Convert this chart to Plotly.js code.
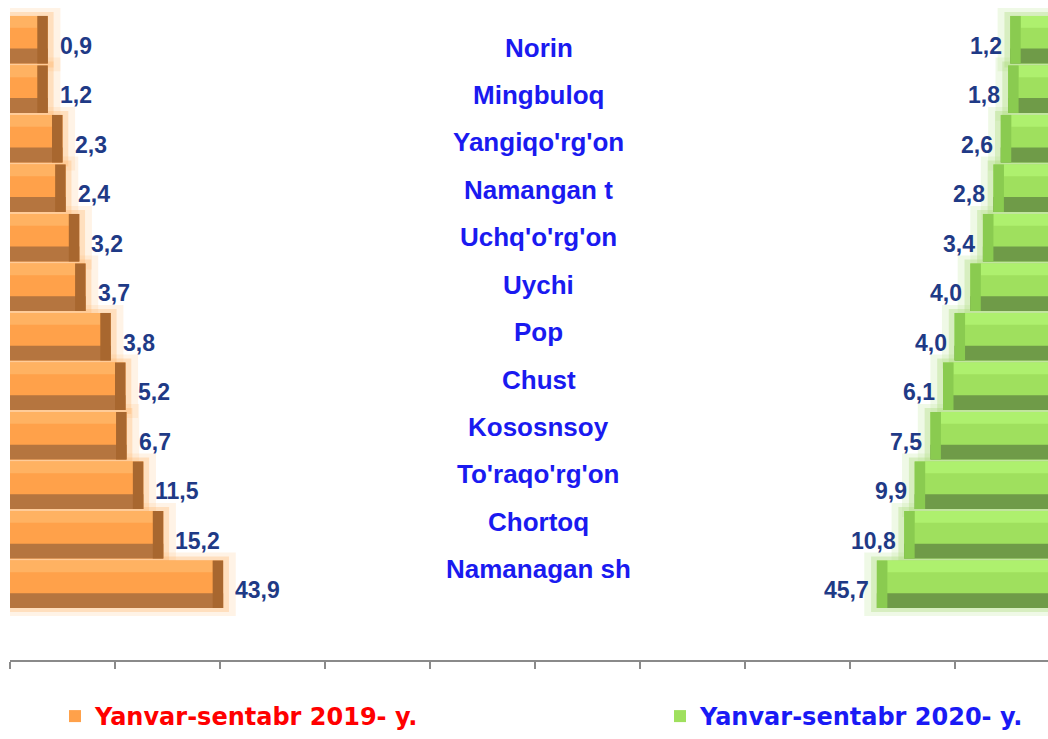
<!DOCTYPE html>
<html><head><meta charset="utf-8">
<script src="https://cdn.plot.ly/plotly-3.0.1.min.js"></script>
<style>html,body{margin:0;padding:0;background:#fff;overflow:hidden}#chart{width:1048px;height:739px}</style>
</head><body><div id="chart"></div>
<script>
// ---- data ----
const districts = ["Norin","Mingbuloq","Yangiqo'rg'on","Namangan t","Uchq'o'rg'on","Uychi","Pop","Chust","Kososnsoy","To'raqo'rg'on","Chortoq","Namanagan sh"];
const value2019 = [0.9,1.2,2.3,2.4,3.2,3.7,3.8,5.2,6.7,11.5,15.2,43.9];
const value2020 = [1.2,1.8,2.6,2.8,3.4,4.0,4.0,6.1,7.5,9.9,10.8,45.7];
// bar lengths as drawn in the picture, in chart scale units (axis tick step = 10)
const barLen2019 = [3.6,3.6,5.0,5.3,6.6,7.2,9.6,11.0,11.1,12.7,14.6,20.3];
const barLen2020 = [3.6,3.8,4.5,5.2,6.2,7.4,8.9,10.0,11.2,12.7,13.7,16.3];
const seriesNames = ["Yanvar-sentabr 2019- y.","Yanvar-sentabr 2020- y."];
const axisTicks = [0,10,20,30,40,50,60,70,80,90];

// ---- helpers ----
const idx = districts.map((_, i) => i);
const fmt = v => v.toFixed(1).replace('.', ',');
const AX_MAX = 1038 / 10.5;

function side(lens, xaxis, c, name, legendColor, legendrank, legendwidth) {
  const common = {type: 'bar', orientation: 'h', y: idx, xaxis: xaxis, yaxis: 'y', hoverinfo: 'skip', showlegend: false};
  const mainTrace = Object.assign({}, common, {x: lens, width: 0.96, marker: {color: c.main, line: {width: 0}},
      name: '<span style="color:' + legendColor + '">' + name + '</span>', showlegend: true, legendrank: legendrank});
  if (legendwidth) mainTrace.legendwidth = legendwidth;
  return [
    Object.assign({}, common, {x: lens.map(v => v + 1.2), width: 1.28, marker: {color: c.glow1}}),
    Object.assign({}, common, {x: lens.map(v => v + 0.55), width: 1.12, marker: {color: c.glow2}}),
    mainTrace,
    Object.assign({}, common, {x: lens.map(v => v - 1.0), width: 0.24, offset: -0.48, marker: {color: c.light}}),
    Object.assign({}, common, {x: lens, width: 0.3, offset: 0.18, marker: {color: c.dark}}),
    Object.assign({}, common, {x: lens.map(() => 1.0), base: lens.map(v => v - 1.0), width: 0.96, marker: {color: c.end}})
  ];
}

const orange = {glow1: 'rgba(255,200,140,0.22)', glow2: 'rgba(255,180,105,0.32)', main: '#FFA14A', light: '#FFB262', dark: '#B5753F', end: '#A8672F'};
const green  = {glow1: 'rgba(190,228,150,0.24)', glow2: 'rgba(170,218,120,0.34)', main: '#9FE05E', light: '#AEF06E', dark: '#6F9B48', end: '#8ACB50'};

const data = [].concat(
  side(barLen2019, 'x', orange, seriesNames[0], '#FF0000', 1, 560),
  side(barLen2020, 'x2', green, seriesNames[1], '#1A1AF5', 2, 0)
);

const valueFont = {family: 'Liberation Sans, Arial, sans-serif', size: 23, weight: 'bold', color: '#1F3A86'};
const annotations = [];
idx.forEach(i => {
  annotations.push({xref: 'paper', yref: 'y', x: 0.5096, y: 0.16 + 0.958 * i, text: districts[i], showarrow: false,
    xanchor: 'center', yanchor: 'middle', font: {family: 'Liberation Sans, Arial, sans-serif', size: 26, weight: 'bold', color: '#1A1AF0'}});
  annotations.push({xref: 'x', yref: 'y', x: barLen2019[i], y: i, text: fmt(value2019[i]), showarrow: false,
    xanchor: 'left', yanchor: 'middle', xshift: 10, yshift: -6, font: valueFont});
  annotations.push({xref: 'x2', yref: 'y', x: barLen2020[i], y: i, text: fmt(value2020[i]), showarrow: false,
    xanchor: 'right', yanchor: 'middle', xshift: -6, yshift: -6, font: valueFont});
});

const layout = {
  width: 1048, height: 739,
  margin: {l: 10, r: 0, t: 8, b: 78, pad: 0},
  barmode: 'overlay',
  paper_bgcolor: '#ffffff', plot_bgcolor: '#ffffff',
  showlegend: true,
  legend: {orientation: 'h', x: (55 - 10) / 1038, xanchor: 'left', y: -0.087, yanchor: 'middle',
    font: {family: 'DejaVu Sans, sans-serif', size: 24, weight: 'bold'}, bgcolor: 'rgba(0,0,0,0)'},
  xaxis: {range: [0, AX_MAX], tickvals: axisTicks, showticklabels: false, ticks: 'outside', ticklen: 7, tickwidth: 1.5,
    tickcolor: '#8a8a8a', showline: true, linecolor: '#8a8a8a', linewidth: 2, showgrid: false, zeroline: false, fixedrange: true},
  xaxis2: {overlaying: 'x', range: [AX_MAX, 0], visible: false, fixedrange: true},
  yaxis: {range: [12.53, -0.64], visible: false, fixedrange: true},
  annotations: annotations
};

Plotly.newPlot('chart', data, layout, {staticPlot: true, displayModeBar: false});
</script>
</body></html>
